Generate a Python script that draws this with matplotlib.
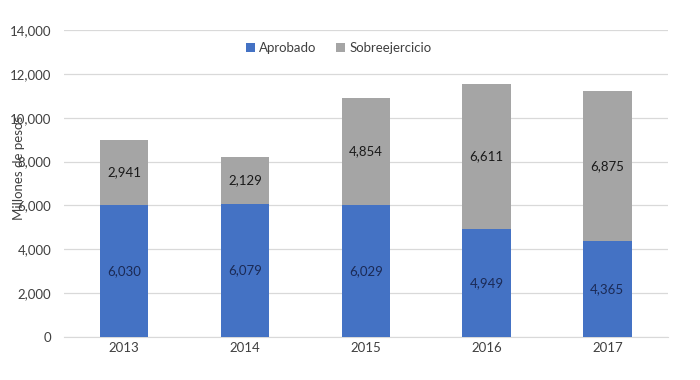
import numpy as np
import matplotlib.pyplot as plt

plt.rcParams["font.family"] = ["Lato", "DejaVu Sans"]

years = ["2013", "2014", "2015", "2016", "2017"]
aprobado = [6030, 6079, 6029, 4949, 4365]
sobreejercicio = [2941, 2129, 4854, 6611, 6875]

fig = plt.figure(figsize=(7, 3.8), dpi=100)
ax = fig.add_axes([0.091, 0.113, 0.863, 0.808])

x = np.arange(len(years))
w = 0.4
b1 = ax.bar(x, aprobado, w, color="#4472C4", label="Aprobado", zorder=3)
b2 = ax.bar(x, sobreejercicio, w, bottom=aprobado, color="#A5A5A5",
            label="Sobreejercicio", zorder=3)

for i in range(len(years)):
    ax.text(x[i], aprobado[i] / 2, f"{aprobado[i]:,}", ha="center", va="center",
            fontsize=9.5, color="#1B2A55", zorder=4)
    ax.text(x[i], aprobado[i] + sobreejercicio[i] / 2, f"{sobreejercicio[i]:,}",
            ha="center", va="center", fontsize=9.5, color="#1A1A1A", zorder=4)

ax.set_xlim(-0.5, len(years) - 0.5)
ax.set_ylim(0, 14000)
ax.set_yticks(range(0, 14001, 2000))
ax.set_yticklabels([f"{v:,}" for v in range(0, 14001, 2000)])
ax.set_xticks(x)
ax.set_xticklabels(years)
ax.tick_params(length=0, labelsize=9.5, colors="#404040")
ax.tick_params(axis="y", pad=9)
ax.grid(axis="y", color="#D9D9D9", linewidth=0.9, zorder=0)
for s in ["top", "right", "left"]:
    ax.spines[s].set_visible(False)
ax.spines["bottom"].set_color("#D9D9D9")

ax.set_ylabel("Millones de pesos", fontsize=9.5, color="#404040")
ax.yaxis.set_label_coords(-0.064, 0.55)

ax.legend(loc="upper center", bbox_to_anchor=(0.455, 1.0), ncol=2, frameon=False,
          fontsize=9.5, handlelength=0.7, handleheight=0.7, handletextpad=0.3,
          columnspacing=1.5, labelcolor="#404040")

fig.savefig("out.png", dpi=100)
